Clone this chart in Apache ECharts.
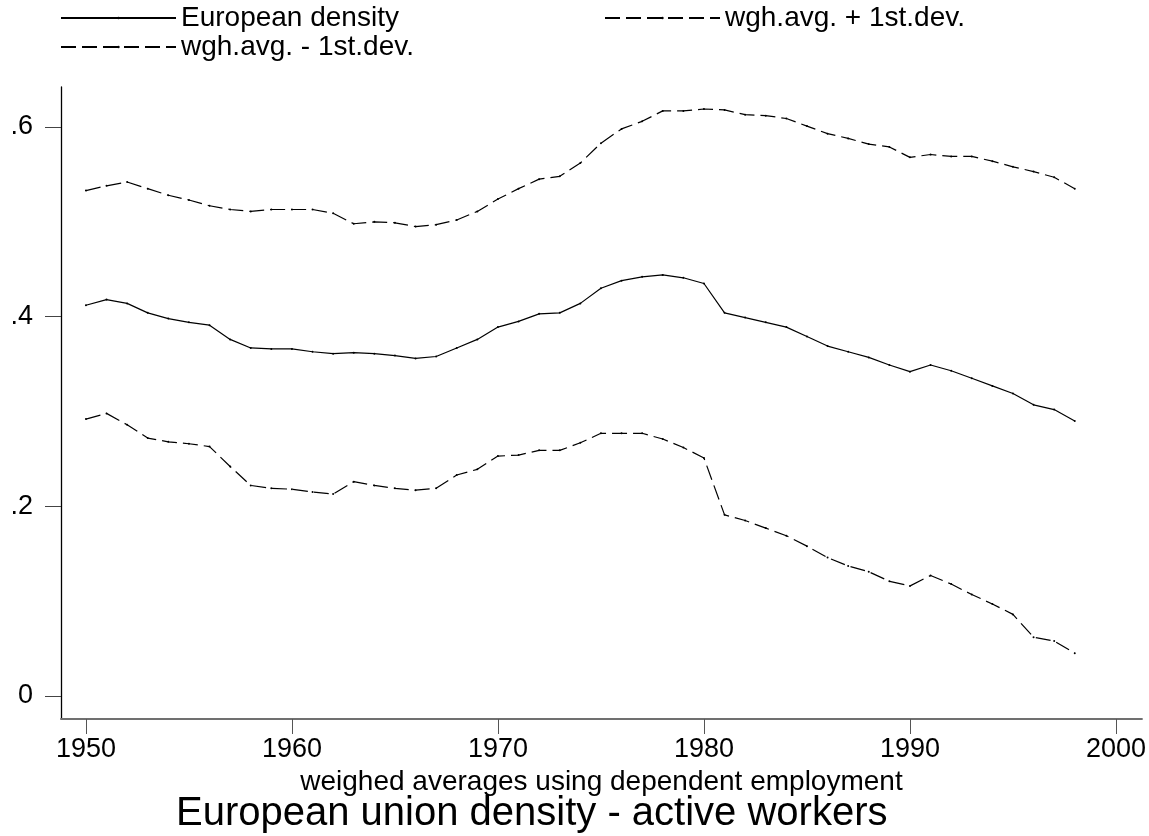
<!DOCTYPE html>
<html>
<head>
<meta charset="utf-8">
<script src="https://cdn.jsdelivr.net/npm/echarts@6/dist/echarts.min.js"></script>
<style>html,body{margin:0;padding:0;background:#fff;}#c{width:1149px;height:836px;}</style>
</head>
<body>
<div id="c"></div>
<script>
const years = [1950,1951,1952,1953,1954,1955,1956,1957,1958,1959,
  1960,1961,1962,1963,1964,1965,1966,1967,1968,1969,
  1970,1971,1972,1973,1974,1975,1976,1977,1978,1979,
  1980,1981,1982,1983,1984,1985,1986,1987,1988,1989,
  1990,1991,1992,1993,1994,1995,1996,1997,1998];
const europeanDensity = [0.412,0.418,0.414,0.404,0.398,0.394,0.391,0.376,0.367,0.366,
  0.366,0.363,0.361,0.362,0.361,0.359,0.356,0.358,0.367,0.376,
  0.389,0.395,0.403,0.404,0.414,0.430,0.438,0.442,0.444,0.441,
  0.435,0.404,0.399,0.394,0.389,0.379,0.369,0.363,0.357,0.349,
  0.342,0.349,0.343,0.335,0.327,0.319,0.307,0.302,0.290];
const plusDev = [0.533,0.538,0.542,0.535,0.528,0.523,0.517,0.513,0.511,0.513,
  0.513,0.513,0.509,0.498,0.500,0.499,0.495,0.497,0.502,0.511,
  0.524,0.535,0.545,0.548,0.562,0.583,0.598,0.606,0.617,0.617,
  0.619,0.618,0.613,0.612,0.609,0.601,0.593,0.588,0.582,0.579,
  0.568,0.571,0.569,0.569,0.564,0.558,0.553,0.547,0.535];
const minusDev = [0.292,0.298,0.286,0.272,0.268,0.266,0.263,0.242,0.222,0.219,
  0.218,0.215,0.213,0.226,0.222,0.219,0.217,0.219,0.233,0.239,
  0.253,0.254,0.259,0.259,0.267,0.277,0.277,0.277,0.271,0.262,
  0.251,0.191,0.185,0.177,0.169,0.158,0.146,0.137,0.131,0.121,
  0.116,0.127,0.118,0.107,0.097,0.086,0.062,0.058,0.045];
const xTicks = [1950,1960,1970,1980,1990,2000];
const yTicks = [0,0.2,0.4,0.6];
const seriesNames = ['European density','wgh.avg. + 1st.dev.','wgh.avg. - 1st.dev.'];
const titleText = 'European union density - active workers';
const xAxisTitle = 'weighed averages using dependent employment';

const FONT = "'Liberation Sans', Arial, Helvetica, sans-serif";
const pairs = arr => years.map((y,i)=>[y, arr[i]]);
const dash = [15,6];
function mk(name, arr, type){
  return {
    name, type:'line', data: pairs(arr),
    symbol:'circle', symbolSize:2, showSymbol:true,
    itemStyle:{color:'#000'},
    lineStyle:{color:'#000', width:1.2, type:type},
    emphasis:{disabled:true}, animation:false
  };
}
const legendCommon = {
  orient:'horizontal', itemWidth:115, itemHeight:3,
  textStyle:{fontFamily:FONT, fontSize:28, color:'#000'},
  selectedMode:false, padding:0, itemGap:0
};
const chart = echarts.init(document.getElementById('c'), null, {renderer:'canvas'});
chart.setOption({
  backgroundColor:'#fff',
  animation:false,
  title:{text:titleText, left:171, top:789,
    textStyle:{fontFamily:FONT, fontSize:40, fontWeight:'normal', color:'#000'}},
  legend:[
    Object.assign({data:[seriesNames[0]], left:60, top:4}, legendCommon),
    Object.assign({data:[seriesNames[1]], left:604, top:4}, legendCommon),
    Object.assign({data:[seriesNames[2]], left:60, top:33}, legendCommon)
  ],
  grid:{left:61, right:7, top:87, bottom:117, containLabel:false},
  xAxis:{
    type:'value', min:1948.79, max:2001.26,
    name:xAxisTitle, nameLocation:'middle', nameGap:40,
    nameTextStyle:{fontFamily:FONT, fontSize:28, color:'#000'},
    axisLine:{show:true, onZero:false, lineStyle:{color:'#707070', width:2}},
    axisTick:{show:true, customValues:xTicks, length:15, lineStyle:{color:'#555', width:1}},
    axisLabel:{customValues:xTicks, fontFamily:FONT, fontSize:27, color:'#000', margin:17,
      formatter: v => String(Math.round(v))},
    splitLine:{show:false}
  },
  yAxis:{
    type:'value', min:-0.0243, max:0.6422,
    axisLine:{show:true, onZero:false, lineStyle:{color:'#000', width:1.3}},
    axisTick:{show:true, customValues:yTicks, length:16, lineStyle:{color:'#444', width:1}},
    axisLabel:{customValues:yTicks, fontFamily:FONT, fontSize:27, color:'#000', margin:28,
      formatter: v => v === 0 ? '0' : String(+v.toFixed(1)).replace(/^0\./,'.')},
    splitLine:{show:false}
  },
  series:[
    mk(seriesNames[0], europeanDensity, 'solid'),
    mk(seriesNames[1], plusDev, dash),
    mk(seriesNames[2], minusDev, dash)
  ]
});
</script>
</body>
</html>
